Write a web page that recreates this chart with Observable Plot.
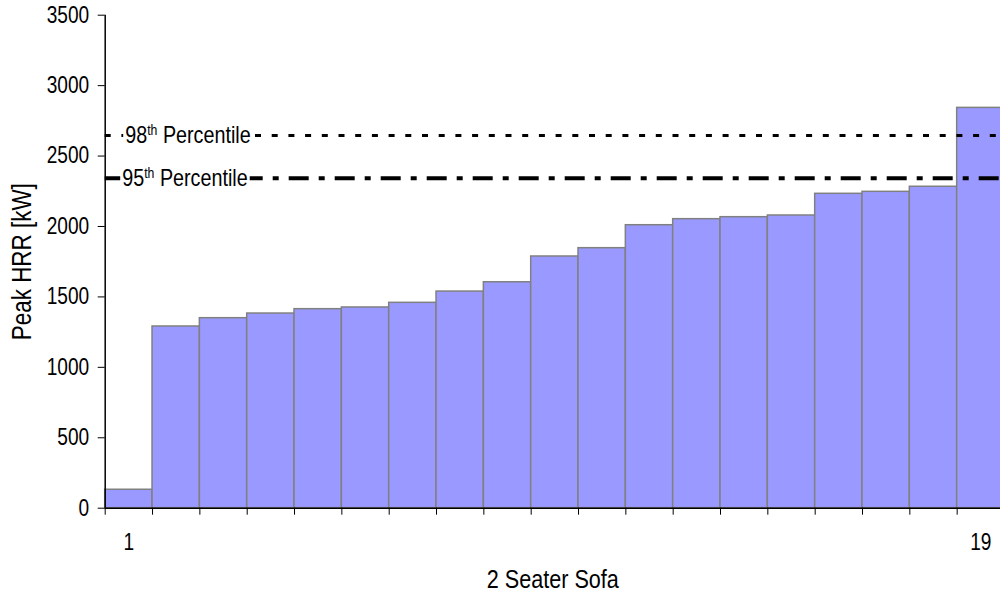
<!DOCTYPE html>
<html><head><meta charset="utf-8">
<script src="https://cdn.jsdelivr.net/npm/d3@7"></script>
<script src="https://cdn.jsdelivr.net/npm/@observablehq/plot@0.6"></script>
<style>
html,body{margin:0;padding:0;background:#fff;overflow:hidden;}
</style></head><body><div id="chart"></div>
<script>
// ---- data ----
const sofaIds = [1,2,3,4,5,6,7,8,9,10,11,12,13,14,15,16,17,18,19];
const peakHRR = [131,1290,1349,1382,1413,1425,1458,1538,1604,1787,1846,2009,2052,2066,2078,2232,2246,2282,2842];
const percentileNames = ["98th Percentile", "95th Percentile"];
const percentileValues = [2646, 2343];
const yTicks = [0,500,1000,1500,2000,2500,3000,3500];
const xTickLabels = [1, 19];
const xTitle = "2 Seater Sofa";
const yTitle = "Peak HRR [kW]";

const bars = sofaIds.map((s, i) => ({sofa: s, hrr: peakHRR[i]}));
const edges = [0.5, ...sofaIds.map(s => s + 0.5)];
const percentiles = percentileNames.map((n, i) => ({name: n, value: percentileValues[i]}));

const FONT = '"Liberation Sans", Arial, sans-serif';
const NARROW = 0.83; // horizontal condensing of all text (Arial Narrow look)

const plot = Plot.plot({
  width: 1000, height: 596,
  marginLeft: 104.7, marginTop: 14.7, marginBottom: 88.3, marginRight: 0,
  style: {fontFamily: FONT, fontSize: "23px", color: "#000", background: "#fff"},
  x: {domain: [0.5, 19.5], range: [104.7, 1004]},
  y: {domain: [0, 3500], range: [507.7, 14.7]},
  marks: [
    Plot.rectY(bars, {x1: d => d.sofa - 0.5, x2: d => d.sofa + 0.5, y: "hrr", fill: "#9999ff", stroke: "#808080", strokeWidth: 1.5}),
    Plot.ruleY(percentiles.slice(0,1), {y: "value", stroke: "#000", strokeWidth: 3, strokeDasharray: "6,10.7"}),
    Plot.ruleY(percentiles.slice(1,2), {y: "value", stroke: "#000", strokeWidth: 4, strokeDasharray: "20,10,6,10"}),
    Plot.text(percentiles.slice(0,1), {x: 0.5, y: "value", text: "name", textAnchor: "start", dx: 20, fontSize: 23.8}),
    Plot.text(percentiles.slice(1,2), {x: 0.5, y: "value", text: "name", textAnchor: "start", dx: 17, fontSize: 23.8}),
    Plot.axisY({ticks: [], tickSize: 0, label: yTitle, labelAnchor: "center", labelArrow: "none", labelOffset: 93, fontSize: 27}),
    Plot.axisY({ticks: yTicks, tickSize: 7, tickPadding: 9, label: null, stroke: "#000", fontSize: 23, tickFormat: d => String(d)}),
    Plot.axisX({ticks: edges, tickSize: 7, tickFormat: () => "", label: null, stroke: "#000"}),
    Plot.axisX({ticks: xTickLabels, tickSize: 0, tickPadding: 25, label: null, fontSize: 23, tickFormat: d => String(d)}),
    Plot.axisX({ticks: [], tickSize: 0, label: xTitle, labelAnchor: "center", labelArrow: "none", labelOffset: 80, fontSize: 26}),
    Plot.ruleY([0], {stroke: "#000", strokeWidth: 1.5}),
    Plot.ruleX([0.5], {stroke: "#000", strokeWidth: 1.5})
  ]
});
document.getElementById("chart").appendChild(plot);

// superscript "th" for the percentile labels
d3.select(plot).selectAll("text").each(function() {
  const t = this.textContent;
  if (!percentileNames.includes(t)) return;
  const m = t.match(/^(\d+)(th)(.*)$/);
  const sel = d3.select(this);
  sel.text("");
  sel.append("tspan").text(m[1]);
  sel.append("tspan").attr("dy", "-0.55em").attr("font-size", "0.62em").text(m[2]);
  sel.append("tspan").attr("dy", "0.34em").text(m[3]);
  this.__pct = true;
});

// condense every text horizontally
d3.select(plot).selectAll("text").each(function() {
  if (!this.textContent) return;
  const w = this.getComputedTextLength();
  if (w > 0) {
    this.setAttribute("textLength", (w * NARROW).toFixed(2));
    this.setAttribute("lengthAdjust", "spacingAndGlyphs");
  }
});

// white boxes behind the percentile labels
d3.select(plot).selectAll("text").each(function() {
  if (!this.__pct) return;
  const bb = this.getBBox();
  d3.select(this.parentNode).insert("rect", () => this)
    .attr("transform", this.getAttribute("transform"))
    .attr("x", bb.x - 2).attr("y", bb.y + 1).attr("width", bb.width + 4).attr("height", bb.height - 2)
    .attr("fill", "#fff");
});
</script></body></html>
